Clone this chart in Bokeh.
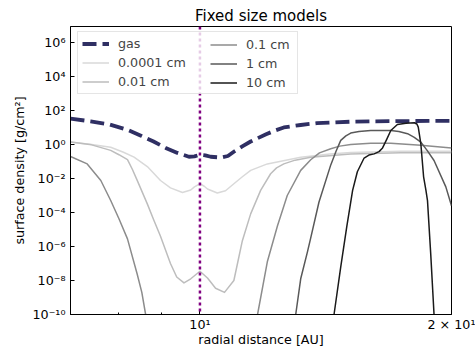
from bokeh.plotting import figure
from bokeh.models import Range1d, FixedTicker, Span, Legend, LegendItem
from bokeh.embed import file_html
from bokeh.resources import INLINE

# ---- data (radial distance in AU, surface density in g/cm^2) ----
r_gas = [7.0, 7.4, 7.8, 8.2, 8.5, 8.8, 9.1, 9.4, 9.7, 9.85, 10.0, 10.15, 10.3,
         10.6, 10.8, 11.0, 11.25, 11.5, 12.0, 12.3, 12.6, 13.2, 13.8, 14.5,
         15.2, 16.0, 17.0, 18.0, 19.0, 20.0]
sigma_gas = [33, 23, 15, 7.1, 3.3, 1.5, 0.63, 0.32, 0.19, 0.20, 0.25, 0.23, 0.19,
             0.17, 0.21, 0.40, 0.8, 1.5, 4.0, 6.6, 10, 14, 18, 20,
             22, 23, 23.4, 24, 24.5, 24.5]

r_a = [7.0, 7.42, 7.82, 8.1, 8.34, 8.65, 8.97, 9.22, 9.53, 9.75, 9.85, 10.0,
       10.12, 10.21, 10.49, 10.73, 10.98, 11.24, 11.5, 12.04, 13.2, 14.3,
       15.15, 17.39, 20.0]
sigma_a = [1.38, 1.0, 0.69, 0.35, 0.18, 0.05, 7.6e-3, 2.8e-3, 1.5e-3, 2.1e-3,
           3.2e-3, 4.9e-3, 3.5e-3, 2.4e-3, 1.4e-3, 1.9e-3, 4.9e-3, 1.26e-2,
           3.0e-2, 7.2e-2, 0.18, 0.28, 0.34, 0.40, 0.40]

r_b = [7.0, 7.42, 7.82, 8.0, 8.19, 8.3, 8.41, 8.65, 8.81, 8.97, 9.22, 9.38,
       9.57, 9.75, 10.0, 10.21, 10.44, 10.70, 10.98, 11.09, 11.24, 11.5,
       11.82, 12.15, 12.35, 12.6, 13.0, 13.57, 15.15, 17.39, 20.0]
sigma_b = [1.38, 0.95, 0.45, 0.25, 0.13, 0.035, 8e-3, 3.2e-4, 3.4e-5, 4.0e-6,
           1e-7, 1.6e-8, 7.2e-9, 1.26e-8, 3.5e-8, 1.4e-8, 3.5e-9, 2.0e-9,
           1e-8, 1e-7, 2.2e-6, 8.3e-5, 2.0e-3, 1.9e-2, 4.2e-2, 7.2e-2, 0.12,
           0.18, 0.28, 0.33, 0.33]

r_c = [7.0, 7.33, 7.61, 7.82, 8.0, 8.19, 8.41, 8.52, 8.61, 8.75, 9.0, 11.3,
       11.57, 11.72, 12.04, 12.38, 12.72, 13.2, 13.57, 13.9, 14.34, 14.7,
       15.15, 16.01, 16.92, 18.38, 20.0]
sigma_c = [0.195, 0.072, 7.6e-3, 5.1e-4, 4.3e-5, 2.8e-6, 2.5e-8, 2e-9, 1e-10,
           3e-12, 1e-13, 1e-13, 1e-11, 1e-10, 1.26e-7, 1.6e-5, 1e-3, 3e-2,
           0.126, 0.32, 0.56, 0.8, 1.0, 1.2, 1.2, 0.89, 0.63]

r_d = [12.7, 13.02, 13.2, 13.45, 13.57, 13.88, 14.34, 14.55, 14.74, 14.95,
       15.15, 15.5, 16.01, 16.92, 17.3, 17.72, 18.05, 18.38, 18.7, 19.06,
       19.69, 20.0]
sigma_d = [1e-12, 1e-10, 1.26e-8, 5e-7, 3.2e-6, 4e-4, 6.3e-2, 0.4, 1.74, 3.2,
           4.7, 5.8, 6.6, 6.6, 5.8, 4.3, 2.6, 1.38, 0.45, 0.115, 3.2e-3, 2.5e-4]

r_e = [14.0, 14.47, 14.74, 14.99, 15.23, 15.43, 15.72, 15.93, 16.16, 16.38,
       16.54, 16.73, 16.92, 17.23, 17.64, 18.05, 18.18, 18.25, 18.38, 18.52,
       18.64, 18.72, 18.89, 19.06, 19.2]
sigma_e = [1e-14, 1e-10, 6.3e-8, 1.6e-5, 2e-3, 2.5e-2, 0.16, 0.24, 0.28, 0.38,
           0.63, 2.0, 6.6, 15, 18, 19, 16, 10.5, 1.1, 1.26e-2, 2e-3, 5e-4,
           3.2e-7, 1e-10, 1e-13]

size_labels = ["0.0001 cm", "0.01 cm", "0.1 cm", "1 cm", "10 cm"]
size_colors = ["#d9d9d9", "#bdbdbd", "#8c8c8c", "#595959", "#1a1a1a"]
planet_r = 10

x_ticks = [10, 20]
x_tick_labels = ["10\u00b9", "2 \u00d7 10\u00b9"]
x_minor = [8, 9]
y_ticks = [1e-10, 1e-8, 1e-6, 1e-4, 1e-2, 1e0, 1e2, 1e4, 1e6]
y_tick_labels = ["10\u207b\u00b9\u2070", "10\u207b\u2078", "10\u207b\u2076",
                 "10\u207b\u2074", "10\u207b\u00b2", "10\u2070", "10\u00b2",
                 "10\u2074", "10\u2076"]

FONT = "DejaVu Sans"

p = figure(width=475, height=349, x_axis_type="log", y_axis_type="log",
           x_range=Range1d(7, 20), y_range=Range1d(1e-10, 8.7e6),
           output_backend="svg", toolbar_location=None,
           min_border_left=70, min_border_right=24, min_border_top=26,
           min_border_bottom=35)

p.title.text = "Fixed size models"
p.title.align = "center"
p.title.text_font = FONT
p.title.text_font_size = "15px"
p.title.text_font_style = "normal"
p.title.standoff = 4
p.title.text_color = "black"

p.xgrid.visible = False
p.ygrid.visible = False
p.outline_line_color = "black"
p.outline_line_alpha = 1.0
p.outline_line_width = 1

p.xaxis.ticker = FixedTicker(ticks=x_ticks, minor_ticks=x_minor)
p.xaxis.major_label_overrides = dict(zip(x_ticks, x_tick_labels))
p.yaxis.ticker = FixedTicker(ticks=y_ticks)
p.yaxis.major_label_overrides = dict(zip(y_ticks, y_tick_labels))

for ax in (p.xaxis, p.yaxis):
    ax.major_tick_in = 4
    ax.major_tick_out = 0
    ax.minor_tick_in = 2
    ax.minor_tick_out = 0
    ax.axis_line_color = "black"
    ax.major_tick_line_color = "black"
    ax.minor_tick_line_color = "black"
    ax.major_label_text_font = FONT
    ax.major_label_text_font_size = "12.7px"
    ax.major_label_text_color = "black"
    ax.axis_label_text_font = FONT
    ax.axis_label_text_font_size = "12.7px"
    ax.axis_label_text_font_style = "normal"
    ax.axis_label_text_color = "black"

p.xaxis.axis_label = "radial distance [AU]"
p.yaxis.axis_label = "surface density [g/cm\u00b2]"
p.xaxis.major_label_standoff = 2
p.xaxis.axis_label_standoff = -3
p.yaxis.major_label_standoff = 5
p.yaxis.axis_label_standoff = 2

gas_r = p.line(r_gas, sigma_gas, line_color="#2f2f63", line_width=3.8,
               line_dash="14 6")

size_data = [(r_a, sigma_a), (r_b, sigma_b), (r_c, sigma_c), (r_d, sigma_d),
             (r_e, sigma_e)]
size_renderers = []
for (rr, ss), col in zip(size_data, size_colors):
    size_renderers.append(p.line(rr, ss, line_color=col, line_width=1.5,
                                 line_join="round"))

p.add_layout(Span(location=planet_r, dimension="height", line_color="#800080",
                  line_width=2.5, line_dash="3 3"))

items_a = [LegendItem(label="gas", renderers=[gas_r])]
for lab, rend in zip(size_labels[:2], size_renderers[:2]):
    items_a.append(LegendItem(label=lab, renderers=[rend]))
items_b = [LegendItem(label=lab, renderers=[rend])
           for lab, rend in zip(size_labels[2:], size_renderers[2:])]

common = dict(label_text_font=FONT, label_text_font_size="12.7px",
              glyph_width=27, glyph_height=15, label_height=15,
              label_standoff=9, spacing=4, padding=4, margin=0)
legend_a = Legend(items=items_a, location=(7, 220), label_width=175,
                  border_line_color="#cccccc", border_line_width=1,
                  background_fill_alpha=0.8, **common)
legend_b = Legend(items=items_b, location=(136, 220), label_width=20,
                  border_line_alpha=0, background_fill_alpha=0, **common)
p.add_layout(legend_a)
p.add_layout(legend_b)

open("out.html", "w").write(file_html(p, INLINE))
